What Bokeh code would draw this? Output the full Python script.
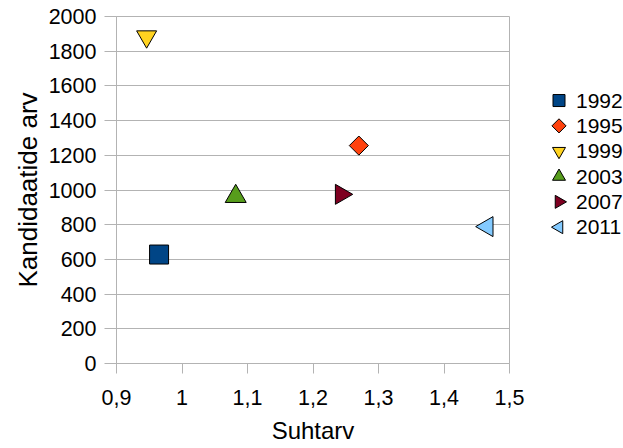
import math
from bokeh.plotting import figure
from bokeh.layouts import row
from bokeh.models import ColumnDataSource, FixedTicker, CustomJSTickFormatter
from bokeh.core.properties import value
from bokeh.embed import file_html
from bokeh.resources import INLINE

# ---- data ----
years = ["1992", "1995", "1999", "2003", "2007", "2011"]
suhtarv = [0.965, 1.270, 0.946, 1.082, 1.243, 1.466]
kandidaate = [628, 1256, 1884, 963, 975, 789]

x_ticks = [0.9, 1.0, 1.1, 1.2, 1.3, 1.4, 1.5]
y_ticks = [0, 200, 400, 600, 800, 1000, 1200, 1400, 1600, 1800, 2000]

# ---- styles ----
colors = ["#004586", "#ff420e", "#ffd320", "#579d1c", "#7e0021", "#83caff"]
markers = ["square", "square", "inverted_triangle", "triangle", "triangle", "triangle"]
angles = [0, math.pi / 4, 0, 0, -math.pi / 2, math.pi / 2]
sizes = [19, 13.5, 20, 21, 20, 20]
leg_sizes = [12, 10, 13, 13, 13, 13]

FONT = "Liberation Sans"
GRID = "#b3b3b3"

src = ColumnDataSource(dict(x=suhtarv, y=kandidaate, color=colors, marker=markers,
                            angle=angles, size=sizes, year=years))

W1 = 530
p = figure(frame_width=393, frame_height=347, x_range=(0.9, 1.5), y_range=(0, 2000),
           toolbar_location=None, output_backend="svg",
           min_border_left=116, min_border_right=W1 - 509,
           min_border_top=16, min_border_bottom=85)
p.background_fill_color = "white"
p.border_fill_color = "white"
p.outline_line_color = GRID

p.scatter("x", "y", source=src, marker="marker", size="size", angle="angle",
          fill_color="color", line_color="black", line_width=1)

p.xaxis.ticker = FixedTicker(ticks=x_ticks)
p.yaxis.ticker = FixedTicker(ticks=y_ticks)
p.xaxis.formatter = CustomJSTickFormatter(
    code="var s = (Math.round(tick*10)/10).toString(); return s.replace('.', ',');")

for ax in (p.xaxis[0], p.yaxis[0]):
    ax.axis_line_color = GRID
    ax.major_tick_line_color = GRID
    ax.minor_tick_line_color = None
    ax.major_tick_in = 0
    ax.major_label_text_font = FONT
    ax.major_label_text_font_size = "21.5px"
    ax.major_label_text_color = "black"
    ax.axis_label_text_font = FONT
    ax.axis_label_text_font_style = "normal"
    ax.axis_label_text_color = "black"

p.xaxis.axis_label_text_font_size = "24px"
p.yaxis.axis_label_text_font_size = "26px"
p.xaxis.major_tick_out = 10
p.yaxis.major_tick_out = 12
p.xaxis.major_label_standoff = 16
p.yaxis.major_label_standoff = 8
p.xaxis.axis_label = "Suhtarv"
p.yaxis.axis_label = "Kandidaatide arv"
p.xaxis.axis_label_standoff = 9
p.yaxis.axis_label_standoff = 3

p.xgrid.grid_line_color = None
p.ygrid.grid_line_color = GRID
p.ygrid.grid_line_width = 1

# ---- legend panel ----
W2 = 623 - W1
lg = figure(width=W2, height=448, x_range=(0, W2), y_range=(448, 0),
            toolbar_location=None, output_backend="svg",
            x_axis_location=None, y_axis_location=None,
            min_border=0)
lg.outline_line_color = None
lg.xgrid.visible = False
lg.ygrid.visible = False
lg.background_fill_color = "white"
lg.border_fill_color = "white"

row0, step = 108.5, 32.7
leg_x = 558.5 - W1
leg_y = [row0 + i * step for i in range(len(years))]
lsrc = ColumnDataSource(dict(x=[leg_x] * len(years), tx=[leg_x + 17] * len(years),
                             y=leg_y, color=colors, marker=markers, angle=angles,
                             size=leg_sizes, year=years))
lg.scatter("x", "y", source=lsrc, marker="marker", size="size", angle="angle",
           fill_color="color", line_color="black", line_width=1)
lg.text("tx", "y", text="year", source=lsrc, text_font=value(FONT),
        text_font_size="21px", text_baseline="middle", text_align="left",
        text_color="black")

layout = row(p, lg, spacing=0)
open("out.html", "w").write(file_html(layout, INLINE))
